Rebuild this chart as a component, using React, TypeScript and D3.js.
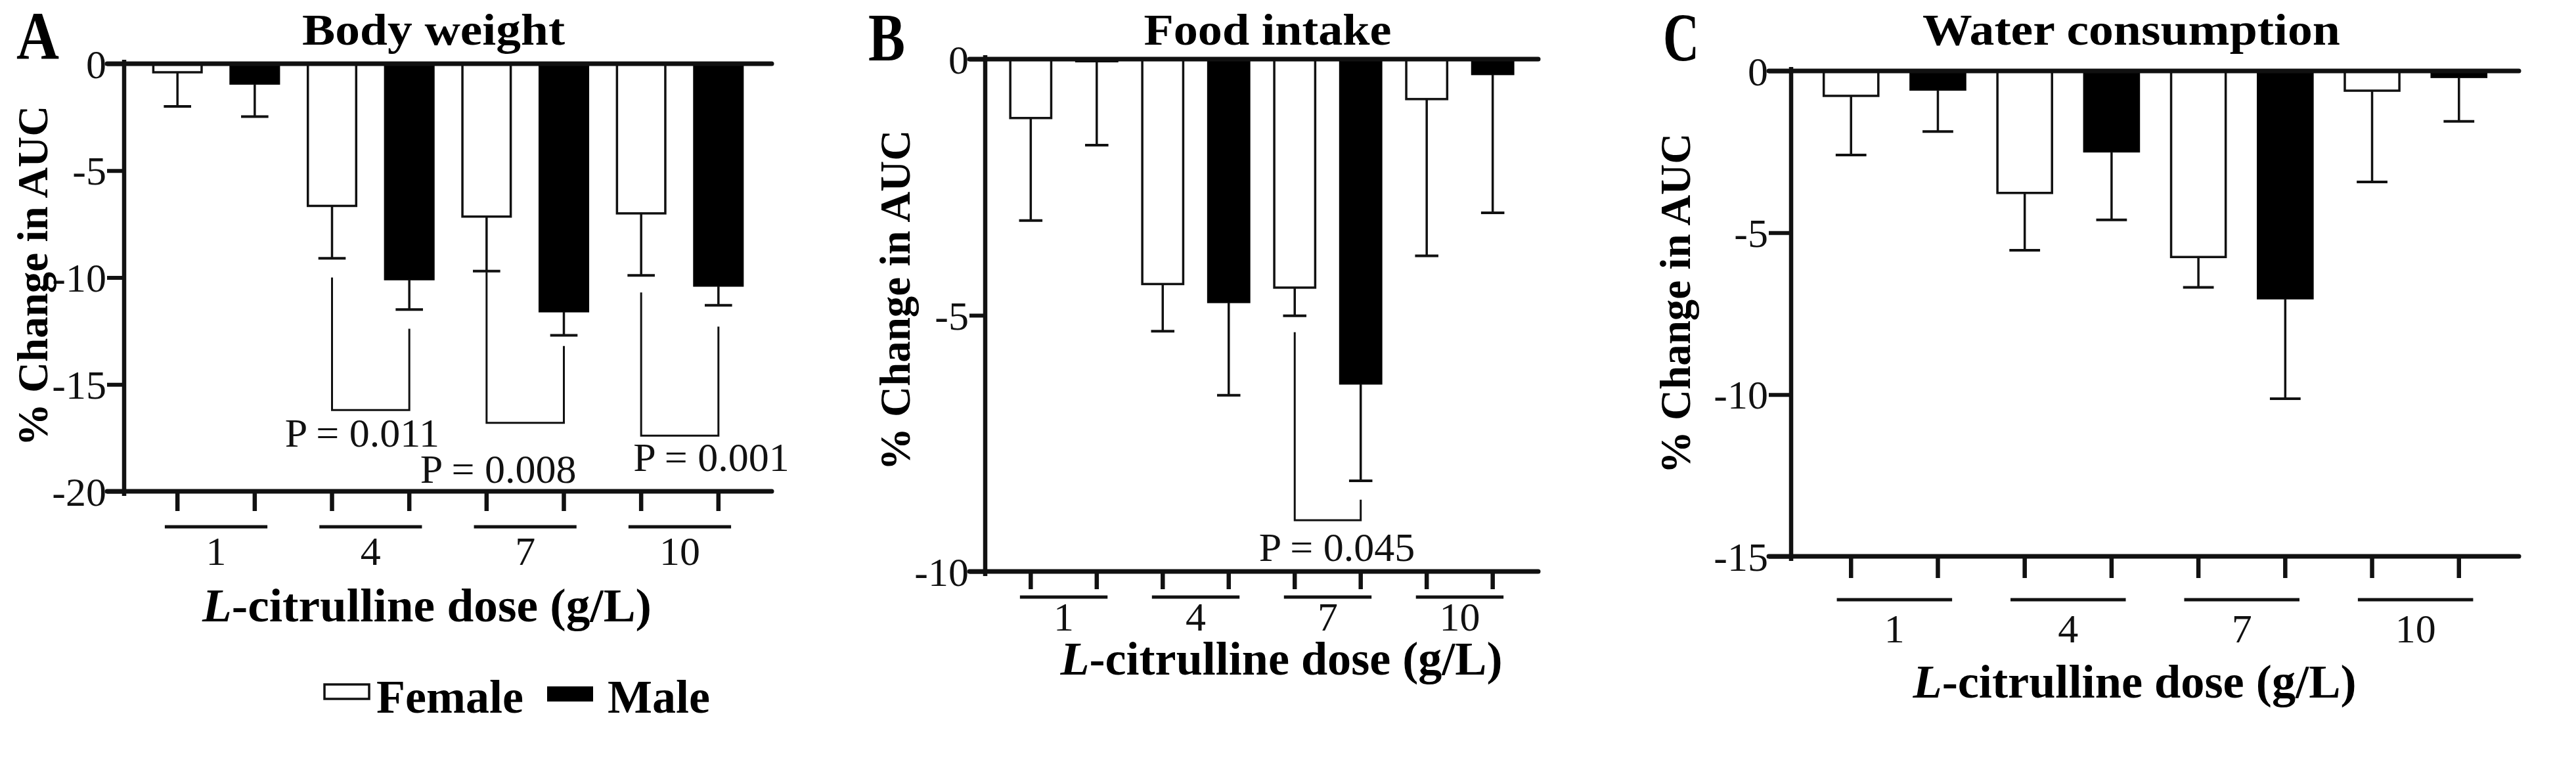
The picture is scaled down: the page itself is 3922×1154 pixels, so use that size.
import { useEffect, useRef } from 'react';
import * as d3 from 'd3';

const W = 3922;
const H = 1154;
const INK = '#111';
const SERIF = "'Liberation Serif', 'Times New Roman', serif";

const doses = ['1', '4', '7', '10'];
const sexes = ['Female', 'Male'];

// % change in AUC, mean and SEM
const bodyWeightFemale = [-0.4, -6.65, -7.15, -7.0];
const bodyWeightFemaleSem = [1.6, 2.45, 2.55, 2.9];
const bodyWeightMale = [-0.95, -10.1, -11.6, -10.4];
const bodyWeightMaleSem = [1.52, 1.4, 1.1, 0.9];

const foodFemale = [-1.15, -4.39, -4.46, -0.78];
const foodFemaleSem = [2.0, 0.92, 0.55, 3.06];
const foodMale = [-0.05, -4.75, -6.34, -0.3];
const foodMaleSem = [1.63, 1.81, 1.89, 2.7];

const waterFemale = [-0.77, -3.77, -5.75, -0.61];
const waterFemaleSem = [1.83, 1.77, 0.94, 2.82];
const waterMale = [-0.59, -2.5, -7.04, -0.2];
const waterMaleSem = [1.28, 2.1, 3.09, 1.36];

const bodyWeightTicks = [0, -5, -10, -15, -20];
const foodTicks = [0, -5, -10];
const waterTicks = [0, -5, -10, -15];

// significance brackets: leg tops (female, male), bottom, label position (all in axis units)
const bodyWeightBrackets = [
  { dose: '4', top: [-10.0, -12.4], bottom: -16.2, label: 'P = 0.011', labelAt: -17.9 },
  { dose: '7', top: [-9.75, -13.2], bottom: -16.8, label: 'P = 0.008', labelAt: -19.6 },
  { dose: '10', top: [-10.7, -12.3], bottom: -17.4, label: 'P = 0.001', labelAt: -19.05 },
];
const foodBrackets = [
  { dose: '7', top: [-5.33, -8.6], bottom: -9.0, label: 'P = 0.045', labelAt: -9.8 },
];

type Bracket = { dose: string; top: number[]; bottom: number; label: string; labelAt: number };

interface Panel {
  letter: string;
  title: string;
  female: number[];
  femaleSem: number[];
  male: number[];
  maleSem: number[];
  ticks: number[];
  brackets: Bracket[];
  layout: Record<string, any>;
}

const panels: Panel[] = [
  {
    letter: 'A',
    title: 'Body weight',
    female: bodyWeightFemale,
    femaleSem: bodyWeightFemaleSem,
    male: bodyWeightMale,
    maleSem: bodyWeightMaleSem,
    ticks: bodyWeightTicks,
    brackets: bodyWeightBrackets,
    layout: {
      left: 189, right: 1175, top: 97, bottom: 748,
      tickLen: 26, catTick: 30, groupDy: 54, doseDy: 112,
      letterX: 25, letterY: 90, letterW: 65,
      titleX: 660, titleW: 400,
      yTitleX: 72, yTitleY: 420,
      xTitleX: 650, xTitleY: 946, xTitleW: 684,
      labelDx: [-13, -41, 48],
    },
  },
  {
    letter: 'B',
    title: 'Food intake',
    female: foodFemale,
    femaleSem: foodFemaleSem,
    male: foodMale,
    maleSem: foodMaleSem,
    ticks: foodTicks,
    brackets: foodBrackets,
    layout: {
      left: 1500, right: 2342, top: 90, bottom: 870,
      tickLen: 24, catTick: 27, groupDy: 39, doseDy: 90,
      letterX: 1322, letterY: 92, letterW: 56,
      titleX: 1930, titleW: 377,
      yTitleX: 1385, yTitleY: 457,
      xTitleX: 1951, xTitleY: 1027, xTitleW: 673,
      labelDx: [14],
    },
  },
  {
    letter: 'C',
    title: 'Water consumption',
    female: waterFemale,
    femaleSem: waterFemaleSem,
    male: waterMale,
    maleSem: waterMaleSem,
    ticks: waterTicks,
    brackets: [],
    layout: {
      left: 2727, right: 3835, top: 108, bottom: 847,
      tickLen: 34, catTick: 33, groupDy: 66, doseDy: 131,
      letterX: 2532, letterY: 92, letterW: 55,
      titleX: 3245, titleW: 636,
      yTitleX: 2573, yTitleY: 462,
      xTitleX: 3250, xTitleY: 1062, xTitleW: 675,
      labelDx: [],
    },
  },
];

function drawPanel(svg: d3.Selection<SVGSVGElement, unknown, null, undefined>, p: Panel) {
  const L = p.layout;
  const g = svg.append('g');
  const yMin = p.ticks[p.ticks.length - 1];

  const y = d3.scaleLinear().domain([0, yMin]).range([L.top, L.bottom]);
  const x0 = d3.scaleBand<string>().domain(doses).range([L.left, L.right]).paddingInner(0).paddingOuter(0.095);
  const x1 = d3.scaleBand<string>().domain(sexes).range([0, x0.bandwidth()]).paddingInner(0.345).paddingOuter(0.1725);
  const bw = x1.bandwidth();
  const cx = (dose: string, sex: string) => (x0(dose) ?? 0) + (x1(sex) ?? 0) + bw / 2;

  const series = [
    { sex: 'Female', values: p.female, sem: p.femaleSem },
    { sex: 'Male', values: p.male, sem: p.maleSem },
  ];

  // Bars + one-sided error bars
  series.forEach((s) => {
    doses.forEach((d, i) => {
      const v = s.values[i];
      const left = (x0(d) ?? 0) + (x1(s.sex) ?? 0);
      if (s.sex === 'Female') {
        g.append('rect')
          .attr('x', left + 1.75).attr('y', y(0))
          .attr('width', bw - 3.5).attr('height', y(v) - y(0))
          .attr('fill', '#fff').attr('stroke', INK).attr('stroke-width', 3.5);
      } else {
        g.append('rect')
          .attr('x', left).attr('y', y(0))
          .attr('width', bw).attr('height', y(v) - y(0) + 1)
          .attr('fill', '#000');
      }
      const xc = cx(d, s.sex);
      const yEnd = y(v - s.sem[i]);
      g.append('line')
        .attr('x1', xc).attr('x2', xc).attr('y1', y(v)).attr('y2', yEnd)
        .attr('stroke', INK).attr('stroke-width', 3.5);
      g.append('line')
        .attr('x1', xc - bw * 0.27).attr('x2', xc + bw * 0.27).attr('y1', yEnd).attr('y2', yEnd)
        .attr('stroke', INK).attr('stroke-width', 4);
    });
  });

  // Y axis — ticks and labels
  const yAxis = d3.axisLeft(y)
    .tickValues(p.ticks)
    .tickSize(L.tickLen)
    .tickSizeOuter(0)
    .tickPadding(1)
    .tickFormat((d) => String(d));
  const ya = g.append('g').attr('transform', `translate(${L.left},0)`).call(yAxis as any);
  ya.select('.domain').remove();
  ya.attr('font-size', null).attr('font-family', null);
  ya.selectAll('.tick line').attr('stroke', INK).attr('stroke-width', 6);
  ya.selectAll('.tick text')
    .attr('fill', INK)
    .attr('font-family', SERIF)
    .attr('font-size', 62)
    .attr('dy', '0.34em');

  // Axis lines
  g.append('line')
    .attr('x1', L.left).attr('x2', L.left)
    .attr('y1', y(0) - 6).attr('y2', y(yMin) + 7)
    .attr('stroke', INK).attr('stroke-width', 6.5);
  [0, yMin].forEach((v) => {
    g.append('line')
      .attr('x1', L.left - L.tickLen).attr('x2', L.right)
      .attr('y1', y(v)).attr('y2', y(v))
      .attr('stroke', INK).attr('stroke-width', 7)
      .attr('stroke-linecap', 'round');
  });

  // Category ticks, group underlines, dose labels
  doses.forEach((d) => {
    sexes.forEach((s) => {
      g.append('line')
        .attr('x1', cx(d, s)).attr('x2', cx(d, s))
        .attr('y1', y(yMin)).attr('y2', y(yMin) + L.catTick)
        .attr('stroke', INK).attr('stroke-width', 6.5);
    });
    const gy = y(yMin) + L.groupDy;
    g.append('line')
      .attr('x1', cx(d, 'Female') - bw * 0.25).attr('x2', cx(d, 'Male') + bw * 0.25)
      .attr('y1', gy).attr('y2', gy)
      .attr('stroke', INK).attr('stroke-width', 5);
    g.append('text')
      .attr('x', (cx(d, 'Female') + cx(d, 'Male')) / 2)
      .attr('y', y(yMin) + L.doseDy)
      .attr('text-anchor', 'middle')
      .attr('fill', INK)
      .attr('font-family', SERIF)
      .attr('font-size', 62)
      .text(d);
  });

  // Significance brackets
  p.brackets.forEach((b, i) => {
    const xa = cx(b.dose, 'Female');
    const xb = cx(b.dose, 'Male');
    const path = d3.path();
    path.moveTo(xa, y(b.top[0]));
    path.lineTo(xa, y(b.bottom));
    path.lineTo(xb, y(b.bottom));
    path.lineTo(xb, y(b.top[1]));
    g.append('path')
      .attr('d', path.toString())
      .attr('fill', 'none')
      .attr('stroke', INK)
      .attr('stroke-width', 3);
    g.append('text')
      .attr('x', (xa + xb) / 2 + (L.labelDx[i] ?? 0))
      .attr('y', y(b.labelAt))
      .attr('text-anchor', 'middle')
      .attr('fill', INK)
      .attr('font-family', SERIF)
      .attr('font-size', 62)
      .text(b.label);
  });

  // Panel letter
  g.append('text')
    .attr('x', L.letterX).attr('y', L.letterY)
    .attr('fill', '#000')
    .attr('font-family', SERIF)
    .attr('font-weight', 700)
    .attr('font-size', 103)
    .attr('textLength', L.letterW)
    .attr('lengthAdjust', 'spacingAndGlyphs')
    .text(p.letter);

  // Title
  g.append('text')
    .attr('x', L.titleX).attr('y', 68)
    .attr('text-anchor', 'middle')
    .attr('fill', '#000')
    .attr('font-family', SERIF)
    .attr('font-weight', 700)
    .attr('font-size', 68)
    .attr('textLength', L.titleW)
    .attr('lengthAdjust', 'spacingAndGlyphs')
    .text(p.title);

  // Y title
  g.append('text')
    .attr('transform', `translate(${L.yTitleX},${L.yTitleY}) rotate(-90)`)
    .attr('text-anchor', 'middle')
    .attr('fill', '#000')
    .attr('font-family', SERIF)
    .attr('font-weight', 700)
    .attr('font-size', 65)
    .text('% Change in AUC');

  // X title
  const xt = g.append('text')
    .attr('x', L.xTitleX).attr('y', L.xTitleY)
    .attr('text-anchor', 'middle')
    .attr('fill', '#000')
    .attr('font-family', SERIF)
    .attr('font-weight', 700)
    .attr('font-size', 72)
    .attr('textLength', L.xTitleW)
    .attr('lengthAdjust', 'spacingAndGlyphs');
  xt.append('tspan').attr('font-style', 'italic').text('L');
  xt.append('tspan').text('-citrulline dose (g/L)');
}

function drawLegend(svg: d3.Selection<SVGSVGElement, unknown, null, undefined>) {
  const g = svg.append('g');
  g.append('rect')
    .attr('x', 494).attr('y', 1042).attr('width', 68).attr('height', 22)
    .attr('fill', '#fff').attr('stroke', INK).attr('stroke-width', 3.5);
  g.append('text')
    .attr('x', 573).attr('y', 1085)
    .attr('font-family', SERIF).attr('font-weight', 700).attr('font-size', 72)
    .attr('fill', '#000')
    .text(sexes[0]);
  g.append('rect')
    .attr('x', 833).attr('y', 1045).attr('width', 70).attr('height', 23)
    .attr('fill', '#000');
  g.append('text')
    .attr('x', 925).attr('y', 1085)
    .attr('font-family', SERIF).attr('font-weight', 700).attr('font-size', 72)
    .attr('fill', '#000')
    .text(sexes[1]);
}

export default function App() {
  const svgRef = useRef<SVGSVGElement>(null);

  useEffect(() => {
    if (!svgRef.current) return;
    const svg = d3.select(svgRef.current);
    svg.selectAll('*').remove();
    panels.forEach((p) => drawPanel(svg, p));
    drawLegend(svg);
  }, []);

  return (
    <div style={{ position: 'absolute', left: 0, top: 0, width: W, height: H, background: '#fff' }}>
      <svg ref={svgRef} width={W} height={H} style={{ display: 'block' }} />
    </div>
  );
}
